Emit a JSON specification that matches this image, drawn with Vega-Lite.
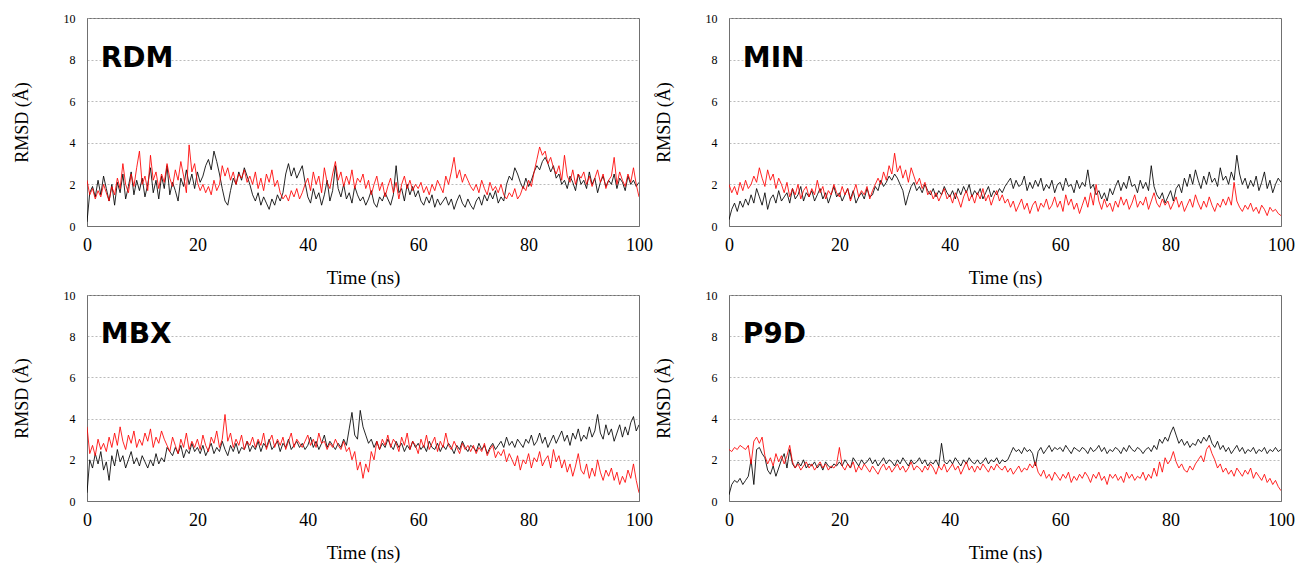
{
"$schema": "https://vega.github.io/schema/vega-lite/v6.json",
"background": "white",
"padding": {"left": 12, "top": 11, "right": 8, "bottom": 2},
"datasets": {
"RDM": [
{"t":0,"k":0.2,"r":2.2},{"t":0.5,"k":1.6,"r":1.5},{"t":1,"k":1.9,"r":1.8},{"t":1.5,"k":1.4,"r":1.3},{"t":2,"k":2.2,"r":1.7},{"t":2.5,"k":1.5,"r":1.4},{"t":3,"k":2.4,"r":2.0},{"t":3.5,"k":1.8,"r":1.6},{"t":4,"k":1.2,"r":1.2},{"t":4.5,"k":2.0,"r":1.9},
{"t":5,"k":1.0,"r":1.5},{"t":5.5,"k":2.1,"r":2.3},{"t":6,"k":1.6,"r":1.8},{"t":6.5,"k":2.5,"r":3.0},{"t":7,"k":1.3,"r":2.0},{"t":7.5,"k":1.9,"r":1.6},{"t":8,"k":2.6,"r":2.5},{"t":8.5,"k":1.5,"r":1.9},{"t":9,"k":2.2,"r":2.8},{"t":9.5,"k":1.7,"r":3.6},
{"t":10,"k":2.3,"r":2.0},{"t":10.5,"k":1.4,"r":2.4},{"t":11,"k":2.0,"r":1.7},{"t":11.5,"k":2.8,"r":3.4},{"t":12,"k":1.6,"r":2.2},{"t":12.5,"k":2.2,"r":2.6},{"t":13,"k":1.3,"r":1.8},{"t":13.5,"k":2.4,"r":2.5},{"t":14,"k":1.8,"r":2.1},{"t":14.5,"k":2.9,"r":3.0},
{"t":15,"k":1.5,"r":2.3},{"t":15.5,"k":2.1,"r":1.9},{"t":16,"k":1.7,"r":2.7},{"t":16.5,"k":1.2,"r":2.2},{"t":17,"k":2.3,"r":3.1},{"t":17.5,"k":1.9,"r":2.4},{"t":18,"k":2.7,"r":1.6},{"t":18.5,"k":2.0,"r":3.9},{"t":19,"k":2.5,"r":2.6},{"t":19.5,"k":1.8,"r":3.0},
{"t":20,"k":2.6,"r":2.1},{"t":20.5,"k":2.1,"r":1.7},{"t":21,"k":2.4,"r":2.0},{"t":21.5,"k":2.9,"r":1.6},{"t":22,"k":3.2,"r":1.9},{"t":22.5,"k":2.7,"r":1.5},{"t":23,"k":3.6,"r":2.2},{"t":23.5,"k":3.1,"r":1.7},{"t":24,"k":2.5,"r":2.0},{"t":24.5,"k":1.8,"r":2.9},
{"t":25,"k":1.2,"r":2.4},{"t":25.5,"k":1.0,"r":2.8},{"t":26,"k":1.7,"r":2.2},{"t":26.5,"k":2.3,"r":2.6},{"t":27,"k":2.0,"r":2.0},{"t":27.5,"k":2.6,"r":2.5},{"t":28,"k":2.2,"r":2.3},{"t":28.5,"k":2.8,"r":2.7},{"t":29,"k":2.4,"r":2.1},{"t":29.5,"k":2.0,"r":2.4},
{"t":30,"k":1.5,"r":2.0},{"t":30.5,"k":1.2,"r":2.6},{"t":31,"k":1.6,"r":1.8},{"t":31.5,"k":1.0,"r":2.3},{"t":32,"k":1.4,"r":1.7},{"t":32.5,"k":1.1,"r":2.5},{"t":33,"k":0.8,"r":2.1},{"t":33.5,"k":1.3,"r":2.7},{"t":34,"k":1.0,"r":1.9},{"t":34.5,"k":1.5,"r":2.2},
{"t":35,"k":1.2,"r":1.6},{"t":35.5,"k":1.6,"r":1.3},{"t":36,"k":2.5,"r":1.5},{"t":36.5,"k":3.0,"r":1.2},{"t":37,"k":2.4,"r":1.7},{"t":37.5,"k":2.8,"r":1.4},{"t":38,"k":2.3,"r":1.8},{"t":38.5,"k":2.6,"r":1.3},{"t":39,"k":2.9,"r":1.6},{"t":39.5,"k":2.1,"r":2.0},
{"t":40,"k":1.4,"r":2.3},{"t":40.5,"k":1.1,"r":1.7},{"t":41,"k":1.8,"r":2.6},{"t":41.5,"k":1.3,"r":2.0},{"t":42,"k":1.6,"r":2.4},{"t":42.5,"k":1.0,"r":1.6},{"t":43,"k":1.5,"r":2.8},{"t":43.5,"k":2.2,"r":2.1},{"t":44,"k":1.2,"r":1.8},{"t":44.5,"k":1.7,"r":2.5},
{"t":45,"k":2.9,"r":3.1},{"t":45.5,"k":1.8,"r":2.2},{"t":46,"k":1.4,"r":2.6},{"t":46.5,"k":2.0,"r":1.9},{"t":47,"k":1.3,"r":2.4},{"t":47.5,"k":1.6,"r":2.0},{"t":48,"k":1.1,"r":2.7},{"t":48.5,"k":1.9,"r":1.8},{"t":49,"k":1.5,"r":2.3},{"t":49.5,"k":1.2,"r":2.1},
{"t":50,"k":1.4,"r":2.5},{"t":50.5,"k":1.0,"r":1.8},{"t":51,"k":1.3,"r":2.2},{"t":51.5,"k":1.7,"r":1.5},{"t":52,"k":1.1,"r":2.0},{"t":52.5,"k":0.9,"r":2.4},{"t":53,"k":1.4,"r":1.7},{"t":53.5,"k":1.2,"r":2.1},{"t":54,"k":1.6,"r":1.4},{"t":54.5,"k":1.3,"r":1.9},
{"t":55,"k":1.0,"r":2.3},{"t":55.5,"k":1.5,"r":1.6},{"t":56,"k":2.9,"r":2.1},{"t":56.5,"k":1.6,"r":1.3},{"t":57,"k":1.8,"r":2.0},{"t":57.5,"k":1.2,"r":2.4},{"t":58,"k":2.0,"r":1.8},{"t":58.5,"k":1.5,"r":2.2},{"t":59,"k":1.9,"r":1.7},{"t":59.5,"k":1.4,"r":2.0},
{"t":60,"k":1.7,"r":1.8},{"t":60.5,"k":1.2,"r":2.1},{"t":61,"k":1.0,"r":1.6},{"t":61.5,"k":1.4,"r":1.9},{"t":62,"k":1.1,"r":1.5},{"t":62.5,"k":1.5,"r":2.0},{"t":63,"k":0.9,"r":1.7},{"t":63.5,"k":1.3,"r":2.2},{"t":64,"k":1.0,"r":1.9},{"t":64.5,"k":1.2,"r":1.6},
{"t":65,"k":1.4,"r":2.4},{"t":65.5,"k":1.0,"r":2.0},{"t":66,"k":1.3,"r":2.6},{"t":66.5,"k":0.8,"r":3.3},{"t":67,"k":1.2,"r":2.3},{"t":67.5,"k":1.5,"r":2.7},{"t":68,"k":1.1,"r":2.1},{"t":68.5,"k":0.9,"r":2.5},{"t":69,"k":1.3,"r":2.2},{"t":69.5,"k":1.0,"r":1.9},
{"t":70,"k":0.8,"r":1.7},{"t":70.5,"k":1.2,"r":2.0},{"t":71,"k":1.4,"r":1.6},{"t":71.5,"k":1.0,"r":2.2},{"t":72,"k":1.5,"r":1.8},{"t":72.5,"k":1.2,"r":1.5},{"t":73,"k":1.6,"r":2.1},{"t":73.5,"k":1.3,"r":1.7},{"t":74,"k":1.7,"r":1.9},{"t":74.5,"k":1.1,"r":1.6},
{"t":75,"k":1.4,"r":2.0},{"t":75.5,"k":1.2,"r":1.5},{"t":76,"k":2.0,"r":1.3},{"t":76.5,"k":2.4,"r":1.6},{"t":77,"k":2.2,"r":1.4},{"t":77.5,"k":2.8,"r":1.8},{"t":78,"k":2.5,"r":1.3},{"t":78.5,"k":2.1,"r":1.5},{"t":79,"k":1.8,"r":1.9},{"t":79.5,"k":2.3,"r":1.7},
{"t":80,"k":1.9,"r":2.2},{"t":80.5,"k":2.2,"r":1.9},{"t":81,"k":2.6,"r":2.6},{"t":81.5,"k":2.9,"r":3.2},{"t":82,"k":2.7,"r":3.8},{"t":82.5,"k":3.1,"r":3.4},{"t":83,"k":3.3,"r":3.6},{"t":83.5,"k":3.0,"r":3.0},{"t":84,"k":2.6,"r":3.3},{"t":84.5,"k":2.9,"r":2.8},
{"t":85,"k":2.3,"r":2.5},{"t":85.5,"k":2.5,"r":2.9},{"t":86,"k":2.0,"r":2.2},{"t":86.5,"k":2.2,"r":3.4},{"t":87,"k":1.8,"r":2.4},{"t":87.5,"k":2.4,"r":2.1},{"t":88,"k":2.1,"r":2.7},{"t":88.5,"k":1.7,"r":2.0},{"t":89,"k":2.5,"r":2.5},{"t":89.5,"k":2.0,"r":2.3},
{"t":90,"k":2.2,"r":2.6},{"t":90.5,"k":1.8,"r":2.0},{"t":91,"k":2.6,"r":2.4},{"t":91.5,"k":2.0,"r":1.9},{"t":92,"k":2.3,"r":2.3},{"t":92.5,"k":1.6,"r":2.7},{"t":93,"k":2.1,"r":2.1},{"t":93.5,"k":2.4,"r":2.5},{"t":94,"k":1.9,"r":1.8},{"t":94.5,"k":2.2,"r":2.2},
{"t":95,"k":2.0,"r":2.4},{"t":95.5,"k":2.5,"r":3.3},{"t":96,"k":1.8,"r":2.0},{"t":96.5,"k":2.3,"r":2.6},{"t":97,"k":2.1,"r":2.2},{"t":97.5,"k":1.7,"r":1.9},{"t":98,"k":2.4,"r":2.5},{"t":98.5,"k":2.0,"r":2.1},{"t":99,"k":2.2,"r":2.8},{"t":99.5,"k":1.9,"r":2.0},
{"t":100,"k":2.1,"r":1.4}
],
"MIN": [
{"t":0,"k":0.3,"r":2.0},{"t":0.5,"k":0.8,"r":1.6},{"t":1,"k":1.1,"r":1.9},{"t":1.5,"k":0.7,"r":1.5},{"t":2,"k":1.2,"r":2.1},{"t":2.5,"k":0.9,"r":1.7},{"t":3,"k":1.3,"r":2.2},{"t":3.5,"k":1.0,"r":1.8},{"t":4,"k":1.5,"r":2.0},{"t":4.5,"k":1.1,"r":2.4},
{"t":5,"k":1.8,"r":2.1},{"t":5.5,"k":1.4,"r":2.8},{"t":6,"k":1.0,"r":2.3},{"t":6.5,"k":1.6,"r":1.9},{"t":7,"k":0.8,"r":2.7},{"t":7.5,"k":1.3,"r":2.2},{"t":8,"k":1.5,"r":2.5},{"t":8.5,"k":1.1,"r":1.8},{"t":9,"k":1.7,"r":2.3},{"t":9.5,"k":1.2,"r":2.0},
{"t":10,"k":1.4,"r":1.6},{"t":10.5,"k":1.6,"r":2.1},{"t":11,"k":1.1,"r":1.4},{"t":11.5,"k":1.8,"r":1.8},{"t":12,"k":1.3,"r":1.5},{"t":12.5,"k":1.5,"r":2.0},{"t":13,"k":1.9,"r":1.3},{"t":13.5,"k":1.2,"r":1.7},{"t":14,"k":1.6,"r":1.9},{"t":14.5,"k":1.4,"r":1.4},
{"t":15,"k":1.7,"r":1.8},{"t":15.5,"k":1.2,"r":1.5},{"t":16,"k":1.5,"r":2.2},{"t":16.5,"k":1.8,"r":1.6},{"t":17,"k":1.3,"r":1.9},{"t":17.5,"k":1.6,"r":1.3},{"t":18,"k":1.1,"r":1.7},{"t":18.5,"k":1.5,"r":1.5},{"t":19,"k":1.9,"r":2.0},{"t":19.5,"k":1.4,"r":1.6},
{"t":20,"k":1.6,"r":1.4},{"t":20.5,"k":1.2,"r":1.9},{"t":21,"k":1.5,"r":1.5},{"t":21.5,"k":1.8,"r":1.8},{"t":22,"k":1.3,"r":1.2},{"t":22.5,"k":1.7,"r":1.6},{"t":23,"k":1.1,"r":2.0},{"t":23.5,"k":1.4,"r":1.4},{"t":24,"k":1.6,"r":1.7},{"t":24.5,"k":1.3,"r":1.5},
{"t":25,"k":1.8,"r":1.9},{"t":25.5,"k":1.4,"r":1.3},{"t":26,"k":1.5,"r":1.7},{"t":26.5,"k":1.9,"r":2.0},{"t":27,"k":1.7,"r":2.3},{"t":27.5,"k":2.2,"r":2.0},{"t":28,"k":1.9,"r":2.6},{"t":28.5,"k":2.1,"r":2.2},{"t":29,"k":2.4,"r":2.9},{"t":29.5,"k":2.2,"r":2.5},
{"t":30,"k":2.5,"r":3.5},{"t":30.5,"k":2.3,"r":2.6},{"t":31,"k":2.0,"r":2.9},{"t":31.5,"k":1.7,"r":2.3},{"t":32,"k":1.0,"r":2.7},{"t":32.5,"k":1.5,"r":2.1},{"t":33,"k":1.9,"r":2.8},{"t":33.5,"k":2.1,"r":2.4},{"t":34,"k":1.7,"r":2.0},{"t":34.5,"k":1.9,"r":2.3},
{"t":35,"k":1.6,"r":1.8},{"t":35.5,"k":2.0,"r":2.1},{"t":36,"k":1.7,"r":1.5},{"t":36.5,"k":1.5,"r":1.7},{"t":37,"k":1.8,"r":1.3},{"t":37.5,"k":1.4,"r":1.6},{"t":38,"k":1.7,"r":1.2},{"t":38.5,"k":1.5,"r":1.5},{"t":39,"k":1.9,"r":1.8},{"t":39.5,"k":1.6,"r":1.3},
{"t":40,"k":1.4,"r":1.5},{"t":40.5,"k":1.7,"r":1.1},{"t":41,"k":1.3,"r":1.6},{"t":41.5,"k":1.8,"r":1.3},{"t":42,"k":1.5,"r":0.9},{"t":42.5,"k":1.9,"r":1.4},{"t":43,"k":1.6,"r":1.7},{"t":43.5,"k":2.0,"r":1.2},{"t":44,"k":1.4,"r":1.5},{"t":44.5,"k":1.7,"r":1.1},
{"t":45,"k":1.5,"r":1.6},{"t":45.5,"k":1.8,"r":1.3},{"t":46,"k":1.3,"r":1.8},{"t":46.5,"k":1.6,"r":1.2},{"t":47,"k":1.9,"r":1.5},{"t":47.5,"k":1.4,"r":1.0},{"t":48,"k":1.7,"r":1.4},{"t":48.5,"k":1.5,"r":1.7},{"t":49,"k":1.8,"r":1.2},{"t":49.5,"k":1.6,"r":1.5},
{"t":50,"k":1.9,"r":1.1},{"t":50.5,"k":2.1,"r":1.3},{"t":51,"k":2.3,"r":0.9},{"t":51.5,"k":1.8,"r":1.2},{"t":52,"k":2.2,"r":0.7},{"t":52.5,"k":1.9,"r":1.0},{"t":53,"k":2.0,"r":1.3},{"t":53.5,"k":2.4,"r":0.8},{"t":54,"k":1.7,"r":1.1},{"t":54.5,"k":2.1,"r":0.6},
{"t":55,"k":1.8,"r":1.0},{"t":55.5,"k":2.2,"r":1.2},{"t":56,"k":1.9,"r":0.7},{"t":56.5,"k":2.3,"r":1.1},{"t":57,"k":1.7,"r":0.9},{"t":57.5,"k":2.0,"r":1.3},{"t":58,"k":1.8,"r":0.8},{"t":58.5,"k":2.2,"r":1.0},{"t":59,"k":1.6,"r":1.4},{"t":59.5,"k":2.0,"r":0.9},
{"t":60,"k":2.1,"r":1.2},{"t":60.5,"k":1.7,"r":0.7},{"t":61,"k":2.3,"r":1.5},{"t":61.5,"k":1.9,"r":1.0},{"t":62,"k":2.0,"r":1.3},{"t":62.5,"k":1.6,"r":0.8},{"t":63,"k":2.2,"r":1.1},{"t":63.5,"k":1.8,"r":0.6},{"t":64,"k":2.1,"r":1.0},{"t":64.5,"k":1.9,"r":1.4},
{"t":65,"k":2.7,"r":0.9},{"t":65.5,"k":1.8,"r":1.6},{"t":66,"k":2.0,"r":1.0},{"t":66.5,"k":1.5,"r":2.0},{"t":67,"k":1.7,"r":1.2},{"t":67.5,"k":1.3,"r":0.8},{"t":68,"k":1.6,"r":1.3},{"t":68.5,"k":1.2,"r":0.9},{"t":69,"k":1.8,"r":1.1},{"t":69.5,"k":1.5,"r":0.7},
{"t":70,"k":1.9,"r":1.2},{"t":70.5,"k":2.2,"r":0.9},{"t":71,"k":1.7,"r":1.4},{"t":71.5,"k":2.1,"r":1.0},{"t":72,"k":1.8,"r":1.3},{"t":72.5,"k":2.4,"r":0.8},{"t":73,"k":1.9,"r":1.1},{"t":73.5,"k":2.0,"r":1.5},{"t":74,"k":1.6,"r":0.9},{"t":74.5,"k":2.2,"r":1.2},
{"t":75,"k":1.8,"r":1.0},{"t":75.5,"k":2.1,"r":1.4},{"t":76,"k":1.7,"r":0.8},{"t":76.5,"k":2.9,"r":1.2},{"t":77,"k":1.9,"r":1.6},{"t":77.5,"k":1.5,"r":1.1},{"t":78,"k":1.3,"r":0.9},{"t":78.5,"k":1.6,"r":1.3},{"t":79,"k":1.1,"r":1.0},{"t":79.5,"k":1.4,"r":1.2},
{"t":80,"k":1.7,"r":0.8},{"t":80.5,"k":1.2,"r":1.1},{"t":81,"k":1.8,"r":1.4},{"t":81.5,"k":2.0,"r":0.9},{"t":82,"k":1.6,"r":1.2},{"t":82.5,"k":2.3,"r":0.7},{"t":83,"k":1.9,"r":1.0},{"t":83.5,"k":2.5,"r":1.3},{"t":84,"k":2.0,"r":0.9},{"t":84.5,"k":2.7,"r":1.5},
{"t":85,"k":2.2,"r":1.1},{"t":85.5,"k":1.8,"r":0.8},{"t":86,"k":2.4,"r":1.2},{"t":86.5,"k":2.0,"r":0.9},{"t":87,"k":2.6,"r":1.4},{"t":87.5,"k":2.1,"r":1.0},{"t":88,"k":2.3,"r":0.7},{"t":88.5,"k":1.9,"r":1.1},{"t":89,"k":2.8,"r":0.9},{"t":89.5,"k":2.2,"r":1.3},
{"t":90,"k":2.4,"r":1.0},{"t":90.5,"k":2.0,"r":1.4},{"t":91,"k":2.6,"r":1.0},{"t":91.5,"k":2.2,"r":2.1},{"t":92,"k":3.4,"r":1.2},{"t":92.5,"k":2.5,"r":0.9},{"t":93,"k":2.0,"r":0.7},{"t":93.5,"k":2.3,"r":1.0},{"t":94,"k":1.8,"r":0.8},{"t":94.5,"k":2.2,"r":1.1},
{"t":95,"k":1.9,"r":0.7},{"t":95.5,"k":2.4,"r":0.9},{"t":96,"k":1.7,"r":0.6},{"t":96.5,"k":2.1,"r":1.0},{"t":97,"k":2.6,"r":0.8},{"t":97.5,"k":1.8,"r":0.5},{"t":98,"k":2.2,"r":0.9},{"t":98.5,"k":1.6,"r":0.7},{"t":99,"k":2.0,"r":0.8},{"t":99.5,"k":2.3,"r":0.6},
{"t":100,"k":2.1,"r":0.5}
],
"MBX": [
{"t":0,"k":0.4,"r":3.6},{"t":0.5,"k":2.0,"r":2.3},{"t":1,"k":1.6,"r":2.7},{"t":1.5,"k":2.3,"r":2.2},{"t":2,"k":1.8,"r":3.0},{"t":2.5,"k":2.4,"r":2.5},{"t":3,"k":1.5,"r":2.8},{"t":3.5,"k":1.9,"r":2.4},{"t":4,"k":1.0,"r":3.1},{"t":4.5,"k":2.2,"r":2.6},
{"t":5,"k":1.7,"r":3.3},{"t":5.5,"k":2.5,"r":2.7},{"t":6,"k":1.9,"r":3.6},{"t":6.5,"k":2.2,"r":2.9},{"t":7,"k":1.6,"r":2.5},{"t":7.5,"k":2.0,"r":3.2},{"t":8,"k":2.4,"r":2.8},{"t":8.5,"k":1.8,"r":3.4},{"t":9,"k":2.1,"r":2.6},{"t":9.5,"k":1.7,"r":3.0},
{"t":10,"k":2.2,"r":2.7},{"t":10.5,"k":1.9,"r":3.3},{"t":11,"k":1.6,"r":2.9},{"t":11.5,"k":2.0,"r":3.5},{"t":12,"k":1.7,"r":2.6},{"t":12.5,"k":2.3,"r":3.1},{"t":13,"k":1.8,"r":2.8},{"t":13.5,"k":2.1,"r":3.4},{"t":14,"k":1.9,"r":3.0},{"t":14.5,"k":2.6,"r":2.7},
{"t":15,"k":2.4,"r":2.4},{"t":15.5,"k":2.2,"r":3.1},{"t":16,"k":2.6,"r":2.7},{"t":16.5,"k":2.3,"r":2.3},{"t":17,"k":2.7,"r":3.0},{"t":17.5,"k":2.1,"r":2.6},{"t":18,"k":2.5,"r":3.3},{"t":18.5,"k":2.3,"r":2.5},{"t":19,"k":2.8,"r":2.9},{"t":19.5,"k":2.4,"r":2.6},
{"t":20,"k":2.6,"r":3.0},{"t":20.5,"k":2.3,"r":2.5},{"t":21,"k":2.7,"r":3.2},{"t":21.5,"k":2.2,"r":2.7},{"t":22,"k":2.5,"r":2.4},{"t":22.5,"k":2.8,"r":3.1},{"t":23,"k":2.3,"r":2.8},{"t":23.5,"k":2.6,"r":3.4},{"t":24,"k":2.4,"r":2.6},{"t":24.5,"k":2.9,"r":3.0},
{"t":25,"k":2.5,"r":4.2},{"t":25.5,"k":2.2,"r":2.9},{"t":26,"k":2.7,"r":3.3},{"t":26.5,"k":2.4,"r":2.6},{"t":27,"k":2.8,"r":3.0},{"t":27.5,"k":2.3,"r":2.7},{"t":28,"k":2.6,"r":3.2},{"t":28.5,"k":2.5,"r":2.5},{"t":29,"k":2.9,"r":2.9},{"t":29.5,"k":2.4,"r":2.7},
{"t":30,"k":2.7,"r":3.1},{"t":30.5,"k":2.5,"r":2.6},{"t":31,"k":2.9,"r":3.0},{"t":31.5,"k":2.4,"r":2.7},{"t":32,"k":2.8,"r":3.3},{"t":32.5,"k":2.6,"r":2.5},{"t":33,"k":3.0,"r":2.9},{"t":33.5,"k":2.5,"r":3.2},{"t":34,"k":2.7,"r":2.6},{"t":34.5,"k":2.9,"r":3.0},
{"t":35,"k":2.4,"r":2.7},{"t":35.5,"k":2.8,"r":3.1},{"t":36,"k":2.6,"r":2.5},{"t":36.5,"k":3.0,"r":2.9},{"t":37,"k":2.5,"r":3.3},{"t":37.5,"k":2.7,"r":2.6},{"t":38,"k":2.9,"r":3.0},{"t":38.5,"k":2.6,"r":2.8},{"t":39,"k":2.8,"r":2.6},{"t":39.5,"k":2.5,"r":2.9},
{"t":40,"k":2.7,"r":3.2},{"t":40.5,"k":3.1,"r":2.7},{"t":41,"k":2.6,"r":3.0},{"t":41.5,"k":2.9,"r":2.6},{"t":42,"k":2.5,"r":3.3},{"t":42.5,"k":2.8,"r":2.8},{"t":43,"k":3.2,"r":2.9},{"t":43.5,"k":2.6,"r":2.5},{"t":44,"k":2.9,"r":2.8},{"t":44.5,"k":2.7,"r":2.6},
{"t":45,"k":2.5,"r":3.0},{"t":45.5,"k":2.8,"r":2.7},{"t":46,"k":2.6,"r":2.5},{"t":46.5,"k":3.0,"r":2.9},{"t":47,"k":2.7,"r":2.4},{"t":47.5,"k":3.5,"r":2.6},{"t":48,"k":4.3,"r":2.0},{"t":48.5,"k":3.2,"r":2.4},{"t":49,"k":3.0,"r":1.5},{"t":49.5,"k":4.4,"r":1.9},
{"t":50,"k":3.6,"r":1.1},{"t":50.5,"k":3.2,"r":1.8},{"t":51,"k":2.8,"r":1.4},{"t":51.5,"k":3.0,"r":2.4},{"t":52,"k":2.6,"r":2.0},{"t":52.5,"k":2.9,"r":2.9},{"t":53,"k":2.5,"r":2.5},{"t":53.5,"k":2.8,"r":3.0},{"t":54,"k":2.6,"r":2.7},{"t":54.5,"k":3.0,"r":3.2},
{"t":55,"k":2.7,"r":2.6},{"t":55.5,"k":2.5,"r":3.0},{"t":56,"k":2.9,"r":2.8},{"t":56.5,"k":2.6,"r":2.4},{"t":57,"k":2.8,"r":3.1},{"t":57.5,"k":2.4,"r":2.7},{"t":58,"k":2.7,"r":3.3},{"t":58.5,"k":2.5,"r":2.5},{"t":59,"k":2.9,"r":2.9},{"t":59.5,"k":2.6,"r":2.7},
{"t":60,"k":2.8,"r":2.3},{"t":60.5,"k":2.5,"r":3.0},{"t":61,"k":2.7,"r":2.6},{"t":61.5,"k":2.4,"r":3.2},{"t":62,"k":2.9,"r":2.5},{"t":62.5,"k":2.6,"r":2.8},{"t":63,"k":2.5,"r":3.1},{"t":63.5,"k":2.8,"r":2.4},{"t":64,"k":2.4,"r":2.9},{"t":64.5,"k":2.7,"r":2.6},
{"t":65,"k":2.5,"r":3.3},{"t":65.5,"k":2.8,"r":2.7},{"t":66,"k":2.6,"r":2.5},{"t":66.5,"k":2.3,"r":2.9},{"t":67,"k":2.7,"r":2.6},{"t":67.5,"k":2.5,"r":2.3},{"t":68,"k":2.9,"r":2.8},{"t":68.5,"k":2.6,"r":2.5},{"t":69,"k":2.4,"r":2.7},{"t":69.5,"k":2.7,"r":2.4},
{"t":70,"k":2.6,"r":2.7},{"t":70.5,"k":2.4,"r":2.3},{"t":71,"k":2.8,"r":2.6},{"t":71.5,"k":2.5,"r":2.4},{"t":72,"k":2.7,"r":2.8},{"t":72.5,"k":2.3,"r":2.2},{"t":73,"k":2.6,"r":2.5},{"t":73.5,"k":2.8,"r":2.7},{"t":74,"k":2.5,"r":2.1},{"t":74.5,"k":2.7,"r":2.4},
{"t":75,"k":2.9,"r":2.2},{"t":75.5,"k":2.6,"r":2.5},{"t":76,"k":3.1,"r":1.9},{"t":76.5,"k":2.7,"r":2.3},{"t":77,"k":2.9,"r":2.0},{"t":77.5,"k":2.6,"r":1.7},{"t":78,"k":3.0,"r":2.2},{"t":78.5,"k":2.8,"r":1.5},{"t":79,"k":2.6,"r":2.0},{"t":79.5,"k":3.0,"r":1.8},
{"t":80,"k":2.8,"r":2.3},{"t":80.5,"k":3.2,"r":1.6},{"t":81,"k":2.7,"r":2.1},{"t":81.5,"k":2.9,"r":1.9},{"t":82,"k":3.3,"r":2.4},{"t":82.5,"k":2.8,"r":1.7},{"t":83,"k":3.1,"r":2.0},{"t":83.5,"k":2.6,"r":2.2},{"t":84,"k":2.9,"r":1.6},{"t":84.5,"k":3.2,"r":2.5},
{"t":85,"k":2.8,"r":1.9},{"t":85.5,"k":3.1,"r":2.2},{"t":86,"k":3.4,"r":1.6},{"t":86.5,"k":2.9,"r":2.0},{"t":87,"k":3.2,"r":1.4},{"t":87.5,"k":2.7,"r":1.8},{"t":88,"k":3.3,"r":1.2},{"t":88.5,"k":3.0,"r":1.7},{"t":89,"k":3.5,"r":2.3},{"t":89.5,"k":2.9,"r":1.5},
{"t":90,"k":3.2,"r":1.3},{"t":90.5,"k":3.0,"r":1.8},{"t":91,"k":3.6,"r":1.1},{"t":91.5,"k":3.1,"r":1.6},{"t":92,"k":3.4,"r":1.2},{"t":92.5,"k":4.2,"r":2.0},{"t":93,"k":3.3,"r":1.4},{"t":93.5,"k":3.0,"r":1.0},{"t":94,"k":3.7,"r":1.5},{"t":94.5,"k":3.2,"r":1.2},
{"t":95,"k":3.5,"r":1.6},{"t":95.5,"k":2.9,"r":1.0},{"t":96,"k":3.3,"r":1.4},{"t":96.5,"k":3.7,"r":0.8},{"t":97,"k":3.1,"r":1.2},{"t":97.5,"k":3.6,"r":0.9},{"t":98,"k":3.2,"r":1.5},{"t":98.5,"k":3.8,"r":1.1},{"t":99,"k":4.1,"r":1.8},{"t":99.5,"k":3.4,"r":1.0},
{"t":100,"k":3.7,"r":0.4}
],
"P9D": [
{"t":0,"k":0.3,"r":2.5},{"t":0.5,"k":0.8,"r":2.4},{"t":1,"k":1.0,"r":2.6},{"t":1.5,"k":0.9,"r":2.5},{"t":2,"k":1.1,"r":2.7},{"t":2.5,"k":0.8,"r":2.6},{"t":3,"k":1.0,"r":2.5},{"t":3.5,"k":1.2,"r":2.7},{"t":4,"k":2.0,"r":1.8},{"t":4.5,"k":0.8,"r":2.9},
{"t":5,"k":2.5,"r":3.1},{"t":5.5,"k":2.6,"r":2.8},{"t":6,"k":2.3,"r":3.1},{"t":6.5,"k":2.1,"r":2.2},{"t":7,"k":1.5,"r":1.8},{"t":7.5,"k":1.3,"r":2.1},{"t":8,"k":1.7,"r":1.7},{"t":8.5,"k":1.2,"r":2.3},{"t":9,"k":1.6,"r":1.9},{"t":9.5,"k":2.0,"r":2.2},
{"t":10,"k":2.3,"r":1.8},{"t":10.5,"k":1.6,"r":2.2},{"t":11,"k":2.5,"r":2.7},{"t":11.5,"k":1.8,"r":1.9},{"t":12,"k":1.6,"r":1.6},{"t":12.5,"k":1.9,"r":1.8},{"t":13,"k":1.7,"r":1.5},{"t":13.5,"k":2.0,"r":1.7},{"t":14,"k":1.6,"r":1.9},{"t":14.5,"k":1.8,"r":1.6},
{"t":15,"k":1.7,"r":1.8},{"t":15.5,"k":1.9,"r":1.5},{"t":16,"k":1.6,"r":1.7},{"t":16.5,"k":1.8,"r":1.9},{"t":17,"k":1.5,"r":1.6},{"t":17.5,"k":1.9,"r":1.8},{"t":18,"k":1.7,"r":1.5},{"t":18.5,"k":1.6,"r":1.7},{"t":19,"k":1.8,"r":1.6},{"t":19.5,"k":1.7,"r":1.8},
{"t":20,"k":1.9,"r":2.6},{"t":20.5,"k":1.7,"r":1.7},{"t":21,"k":2.0,"r":1.5},{"t":21.5,"k":1.8,"r":1.8},{"t":22,"k":1.6,"r":1.6},{"t":22.5,"k":2.1,"r":1.9},{"t":23,"k":1.9,"r":1.4},{"t":23.5,"k":1.7,"r":1.7},{"t":24,"k":2.0,"r":1.5},{"t":24.5,"k":1.8,"r":1.8},
{"t":25,"k":1.9,"r":1.6},{"t":25.5,"k":2.1,"r":1.4},{"t":26,"k":1.8,"r":1.7},{"t":26.5,"k":2.0,"r":1.5},{"t":27,"k":1.7,"r":1.3},{"t":27.5,"k":1.9,"r":1.6},{"t":28,"k":2.1,"r":1.8},{"t":28.5,"k":1.8,"r":1.5},{"t":29,"k":2.0,"r":1.7},{"t":29.5,"k":1.9,"r":1.4},
{"t":30,"k":1.7,"r":1.6},{"t":30.5,"k":2.0,"r":1.8},{"t":31,"k":1.8,"r":1.5},{"t":31.5,"k":2.1,"r":1.7},{"t":32,"k":1.9,"r":1.4},{"t":32.5,"k":1.7,"r":1.6},{"t":33,"k":2.0,"r":1.9},{"t":33.5,"k":1.8,"r":1.5},{"t":34,"k":1.9,"r":1.7},{"t":34.5,"k":2.1,"r":1.6},
{"t":35,"k":1.8,"r":1.4},{"t":35.5,"k":2.0,"r":1.7},{"t":36,"k":1.7,"r":1.5},{"t":36.5,"k":1.9,"r":1.8},{"t":37,"k":1.8,"r":1.6},{"t":37.5,"k":2.0,"r":1.3},{"t":38,"k":1.7,"r":1.7},{"t":38.5,"k":2.8,"r":1.5},{"t":39,"k":1.9,"r":1.8},{"t":39.5,"k":1.8,"r":1.4},
{"t":40,"k":2.0,"r":1.6},{"t":40.5,"k":1.8,"r":1.8},{"t":41,"k":2.1,"r":1.5},{"t":41.5,"k":1.9,"r":1.7},{"t":42,"k":1.7,"r":1.3},{"t":42.5,"k":2.0,"r":1.6},{"t":43,"k":1.8,"r":1.9},{"t":43.5,"k":2.1,"r":1.5},{"t":44,"k":1.9,"r":1.7},{"t":44.5,"k":1.8,"r":1.4},
{"t":45,"k":2.0,"r":1.7},{"t":45.5,"k":1.8,"r":1.5},{"t":46,"k":1.9,"r":1.8},{"t":46.5,"k":2.1,"r":1.6},{"t":47,"k":1.8,"r":1.4},{"t":47.5,"k":2.0,"r":1.7},{"t":48,"k":1.9,"r":1.5},{"t":48.5,"k":2.1,"r":1.8},{"t":49,"k":1.8,"r":1.6},{"t":49.5,"k":2.0,"r":1.5},
{"t":50,"k":1.9,"r":1.7},{"t":50.5,"k":2.0,"r":1.4},{"t":51,"k":2.3,"r":1.6},{"t":51.5,"k":2.6,"r":1.3},{"t":52,"k":2.4,"r":1.5},{"t":52.5,"k":2.5,"r":1.7},{"t":53,"k":2.3,"r":1.4},{"t":53.5,"k":2.6,"r":1.6},{"t":54,"k":2.4,"r":1.5},{"t":54.5,"k":2.5,"r":1.8},
{"t":55,"k":2.3,"r":1.6},{"t":55.5,"k":1.7,"r":1.9},{"t":56,"k":2.4,"r":1.4},{"t":56.5,"k":2.6,"r":1.2},{"t":57,"k":2.3,"r":1.5},{"t":57.5,"k":2.5,"r":1.1},{"t":58,"k":2.7,"r":1.3},{"t":58.5,"k":2.4,"r":1.0},{"t":59,"k":2.6,"r":1.4},{"t":59.5,"k":2.5,"r":1.2},
{"t":60,"k":2.6,"r":1.0},{"t":60.5,"k":2.4,"r":1.3},{"t":61,"k":2.7,"r":1.1},{"t":61.5,"k":2.5,"r":1.4},{"t":62,"k":2.3,"r":0.9},{"t":62.5,"k":2.6,"r":1.2},{"t":63,"k":2.5,"r":1.0},{"t":63.5,"k":2.4,"r":1.3},{"t":64,"k":2.6,"r":1.1},{"t":64.5,"k":2.5,"r":1.4},
{"t":65,"k":2.3,"r":1.2},{"t":65.5,"k":2.6,"r":0.9},{"t":66,"k":2.4,"r":1.3},{"t":66.5,"k":2.5,"r":1.1},{"t":67,"k":2.7,"r":1.4},{"t":67.5,"k":2.4,"r":1.0},{"t":68,"k":2.6,"r":1.2},{"t":68.5,"k":2.3,"r":0.8},{"t":69,"k":2.5,"r":1.3},{"t":69.5,"k":2.4,"r":1.1},
{"t":70,"k":2.6,"r":1.3},{"t":70.5,"k":2.5,"r":1.0},{"t":71,"k":2.3,"r":1.2},{"t":71.5,"k":2.6,"r":0.9},{"t":72,"k":2.4,"r":1.4},{"t":72.5,"k":2.7,"r":1.1},{"t":73,"k":2.5,"r":1.3},{"t":73.5,"k":2.4,"r":1.0},{"t":74,"k":2.6,"r":1.2},{"t":74.5,"k":2.5,"r":1.1},
{"t":75,"k":2.3,"r":1.4},{"t":75.5,"k":2.5,"r":1.0},{"t":76,"k":2.6,"r":1.3},{"t":76.5,"k":2.4,"r":1.1},{"t":77,"k":2.7,"r":1.6},{"t":77.5,"k":2.5,"r":1.2},{"t":78,"k":3.0,"r":1.9},{"t":78.5,"k":2.8,"r":1.4},{"t":79,"k":3.1,"r":2.1},{"t":79.5,"k":2.9,"r":1.8},
{"t":80,"k":3.3,"r":2.0},{"t":80.5,"k":3.6,"r":2.4},{"t":81,"k":3.2,"r":1.9},{"t":81.5,"k":2.8,"r":1.6},{"t":82,"k":3.0,"r":1.8},{"t":82.5,"k":2.7,"r":1.5},{"t":83,"k":2.9,"r":1.4},{"t":83.5,"k":2.6,"r":1.7},{"t":84,"k":2.8,"r":1.5},{"t":84.5,"k":2.7,"r":1.8},
{"t":85,"k":3.0,"r":2.0},{"t":85.5,"k":2.8,"r":2.2},{"t":86,"k":3.1,"r":1.9},{"t":86.5,"k":2.9,"r":2.5},{"t":87,"k":3.2,"r":2.7},{"t":87.5,"k":2.8,"r":2.3},{"t":88,"k":2.6,"r":2.0},{"t":88.5,"k":2.9,"r":1.6},{"t":89,"k":2.5,"r":1.8},{"t":89.5,"k":2.7,"r":1.4},
{"t":90,"k":2.4,"r":1.6},{"t":90.5,"k":2.6,"r":1.3},{"t":91,"k":2.3,"r":1.5},{"t":91.5,"k":2.5,"r":1.2},{"t":92,"k":2.7,"r":1.6},{"t":92.5,"k":2.4,"r":1.4},{"t":93,"k":2.6,"r":1.2},{"t":93.5,"k":2.3,"r":1.5},{"t":94,"k":2.5,"r":1.3},{"t":94.5,"k":2.4,"r":1.6},
{"t":95,"k":2.6,"r":1.1},{"t":95.5,"k":2.3,"r":1.4},{"t":96,"k":2.5,"r":1.2},{"t":96.5,"k":2.4,"r":1.0},{"t":97,"k":2.6,"r":1.3},{"t":97.5,"k":2.3,"r":0.9},{"t":98,"k":2.5,"r":1.1},{"t":98.5,"k":2.4,"r":0.8},{"t":99,"k":2.6,"r":1.0},{"t":99.5,"k":2.4,"r":0.7},
{"t":100,"k":2.5,"r":0.5}
]
},
"config": {
  "font": "Liberation Serif",
  "view": {"stroke": "#707070", "strokeWidth": 1},
  "axis": {"domainColor": "#707070", "ticks": false, "titleFont": "Liberation Serif", "labelFont": "Liberation Serif", "titleFontWeight": "normal", "titleColor": "#000000", "labelColor": "#000000"},
  "axisX": {"grid": false, "labelFontSize": 18, "labelPadding": 10, "labelFlush": false, "titleFontSize": 19, "titlePadding": 14},
  "axisY": {"grid": true, "gridColor": "#aaaaaa", "gridDash": [2, 2], "gridWidth": 0.8, "labelFontSize": 12, "labelPadding": 12, "titleFontSize": 18, "titlePadding": 32}
},
"columns": 2,
"spacing": {"row": 0, "column": 1},
"concat": [
{"width": 552, "height": 208, "data": {"name": "RDM"},
 "layer": [
  {"transform": [{"fold": ["k", "r"], "as": ["s", "v"]}],
   "mark": {"type": "line", "strokeWidth": 0.85, "clip": true},
   "encoding": {
    "x": {"field": "t", "type": "quantitative", "scale": {"domain": [0, 100], "nice": false}, "axis": {"values": [0, 20, 40, 60, 80, 100], "title": "Time (ns)"}},
    "y": {"field": "v", "type": "quantitative", "scale": {"domain": [0, 10], "nice": false}, "axis": {"values": [0, 2, 4, 6, 8, 10], "title": "RMSD (Å)"}},
    "color": {"field": "s", "type": "nominal", "scale": {"domain": ["k", "r"], "range": ["#000000", "#ff0000"]}, "legend": null}}},
  {"transform": [{"filter": "datum.t == 0"}],
   "mark": {"type": "text", "font": "DejaVu Sans", "fontWeight": "bold", "fontSize": 28, "align": "left", "baseline": "alphabetic", "color": "#000000"},
   "encoding": {"x": {"datum": 2.5, "type": "quantitative"}, "y": {"datum": 7.65, "type": "quantitative"}, "text": {"value": "RDM"}}}
 ]},
{"width": 552, "height": 208, "data": {"name": "MIN"},
 "layer": [
  {"transform": [{"fold": ["k", "r"], "as": ["s", "v"]}],
   "mark": {"type": "line", "strokeWidth": 0.85, "clip": true},
   "encoding": {
    "x": {"field": "t", "type": "quantitative", "scale": {"domain": [0, 100], "nice": false}, "axis": {"values": [0, 20, 40, 60, 80, 100], "title": "Time (ns)"}},
    "y": {"field": "v", "type": "quantitative", "scale": {"domain": [0, 10], "nice": false}, "axis": {"values": [0, 2, 4, 6, 8, 10], "title": "RMSD (Å)"}},
    "color": {"field": "s", "type": "nominal", "scale": {"domain": ["k", "r"], "range": ["#000000", "#ff0000"]}, "legend": null}}},
  {"transform": [{"filter": "datum.t == 0"}],
   "mark": {"type": "text", "font": "DejaVu Sans", "fontWeight": "bold", "fontSize": 28, "align": "left", "baseline": "alphabetic", "color": "#000000"},
   "encoding": {"x": {"datum": 2.5, "type": "quantitative"}, "y": {"datum": 7.65, "type": "quantitative"}, "text": {"value": "MIN"}}}
 ]},
{"width": 552, "height": 206, "data": {"name": "MBX"},
 "layer": [
  {"transform": [{"fold": ["k", "r"], "as": ["s", "v"]}],
   "mark": {"type": "line", "strokeWidth": 0.85, "clip": true},
   "encoding": {
    "x": {"field": "t", "type": "quantitative", "scale": {"domain": [0, 100], "nice": false}, "axis": {"values": [0, 20, 40, 60, 80, 100], "title": "Time (ns)"}},
    "y": {"field": "v", "type": "quantitative", "scale": {"domain": [0, 10], "nice": false}, "axis": {"values": [0, 2, 4, 6, 8, 10], "title": "RMSD (Å)"}},
    "color": {"field": "s", "type": "nominal", "scale": {"domain": ["k", "r"], "range": ["#000000", "#ff0000"]}, "legend": null}}},
  {"transform": [{"filter": "datum.t == 0"}],
   "mark": {"type": "text", "font": "DejaVu Sans", "fontWeight": "bold", "fontSize": 28, "align": "left", "baseline": "alphabetic", "color": "#000000"},
   "encoding": {"x": {"datum": 2.5, "type": "quantitative"}, "y": {"datum": 7.65, "type": "quantitative"}, "text": {"value": "MBX"}}}
 ]},
{"width": 552, "height": 206, "data": {"name": "P9D"},
 "layer": [
  {"transform": [{"fold": ["k", "r"], "as": ["s", "v"]}],
   "mark": {"type": "line", "strokeWidth": 0.85, "clip": true},
   "encoding": {
    "x": {"field": "t", "type": "quantitative", "scale": {"domain": [0, 100], "nice": false}, "axis": {"values": [0, 20, 40, 60, 80, 100], "title": "Time (ns)"}},
    "y": {"field": "v", "type": "quantitative", "scale": {"domain": [0, 10], "nice": false}, "axis": {"values": [0, 2, 4, 6, 8, 10], "title": "RMSD (Å)"}},
    "color": {"field": "s", "type": "nominal", "scale": {"domain": ["k", "r"], "range": ["#000000", "#ff0000"]}, "legend": null}}},
  {"transform": [{"filter": "datum.t == 0"}],
   "mark": {"type": "text", "font": "DejaVu Sans", "fontWeight": "bold", "fontSize": 28, "align": "left", "baseline": "alphabetic", "color": "#000000"},
   "encoding": {"x": {"datum": 2.5, "type": "quantitative"}, "y": {"datum": 7.65, "type": "quantitative"}, "text": {"value": "P9D"}}}
 ]}
]
}
